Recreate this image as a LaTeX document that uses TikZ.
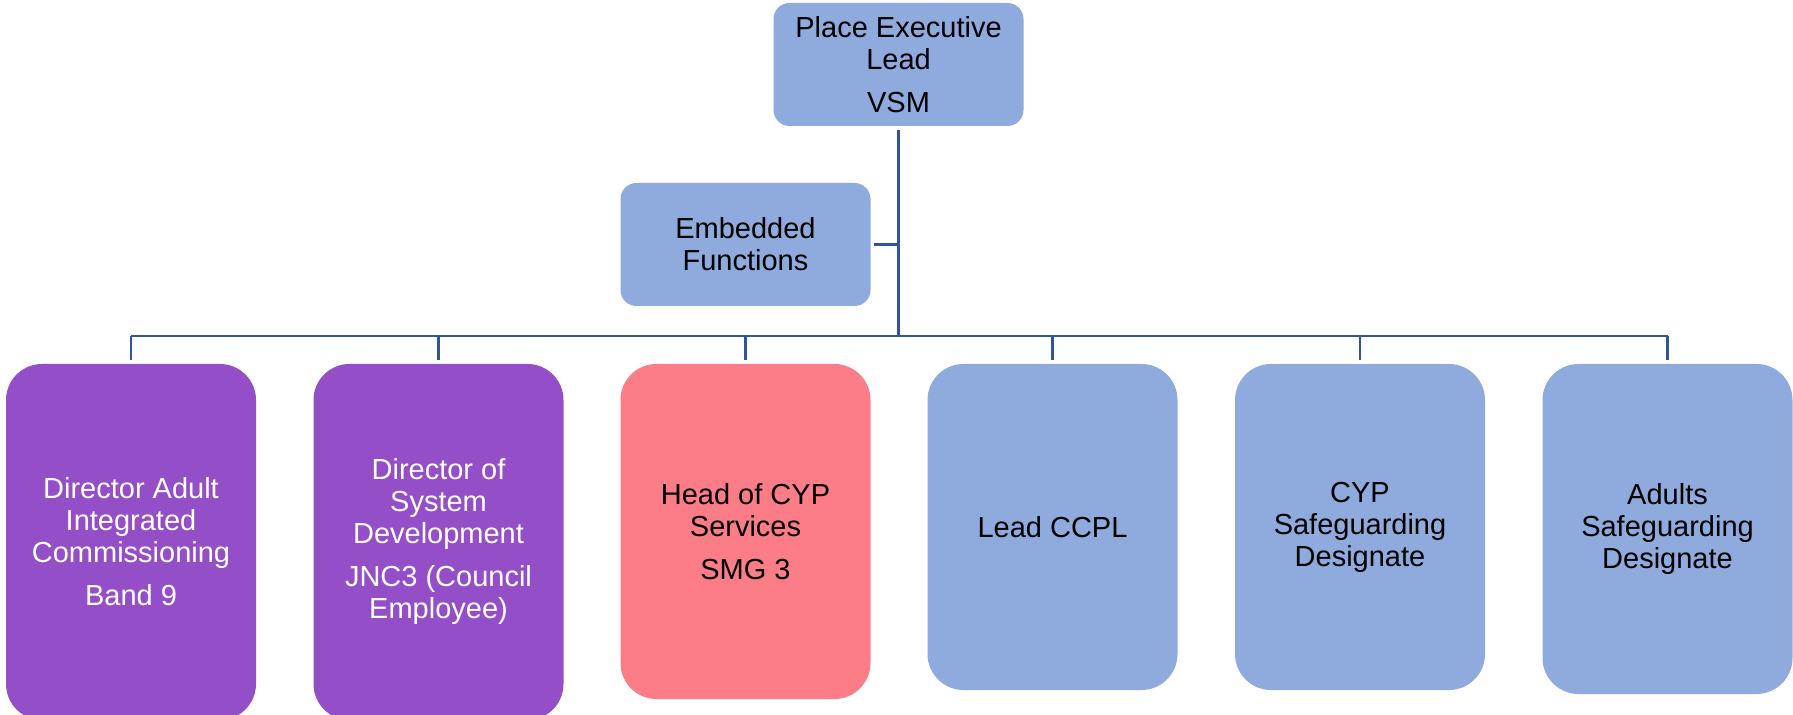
\documentclass[tikz,border=0pt]{standalone}
\usepackage{fontspec}
\setmainfont{Liberation Sans}
\usetikzlibrary{positioning}

\definecolor{roleblue}{HTML}{8FAADC}
\definecolor{rolepurple}{HTML}{944FC8}
\definecolor{rolepink}{HTML}{FC7C87}
\definecolor{linkblue}{HTML}{2F5597}

\tikzset{
  role/.style={fill=roleblue, inner sep=0pt, align=center,
    font=\fontsize{14.5}{16}\selectfont, minimum width=125pt},
  headbox/.style={role, rounded corners=8pt, minimum height=61.5pt},
  staffbox/.style={role, rounded corners=18pt},
  link/.style={draw=linkblue, line width=1.3pt},
  drop/.style={link, line width=1.1pt, shorten >=2pt}
}

\begin{document}
\begin{tikzpicture}[x=0.5pt, y=-0.5pt]
\clip (0,0) rectangle (1793,715);

% top and side boxes
\node[headbox] (pel) at (898.5,64.5) {Place Executive\\Lead\\[5.5pt]VSM};
\node[headbox] (ef) at (745.5,244.5) {Embedded\\Functions};

% reporting boxes
\node[staffbox, fill=rolepurple, text=white, minimum height=178pt] (dir1) at (131,542)
  {Director Adult\\Integrated\\Commissioning\\[5.5pt]Band 9};
\node[staffbox, fill=rolepurple, text=white, minimum height=178pt] (dir2) at (438.5,542)
  {Director of\\System\\Development\\[5.5pt]JNC3 (Council\\Employee)};
\node[staffbox, fill=rolepink, minimum height=167.5pt] (cyp) at (745.5,531.5)
  {Head of CYP\\Services\\[5.5pt]SMG 3};
\node[staffbox, minimum height=163pt] (ccpl) at (1052.5,527) {Lead CCPL};
\node[staffbox, minimum height=163pt] (cypsg) at (1360,527)
  {CYP\\Safeguarding\\Designate};
\node[staffbox, minimum height=165pt] (adsg) at (1667.5,529)
  {Adults\\Safeguarding\\Designate};

% connectors
\coordinate (bus) at (899,336);
\draw[link, shorten <=2pt] (pel.south) -- (pel.south |- bus);
\draw[link, shorten <=1.5pt] (ef.east) -- (ef.east -| bus);
\draw[link] (dir1.north |- bus) -- (adsg.north |- bus);
\draw[drop] (dir1.north |- bus) -- (dir1.north);
\draw[drop] (dir2.north |- bus) -- (dir2.north);
\draw[drop] (cyp.north |- bus) -- (cyp.north);
\draw[drop] (ccpl.north |- bus) -- (ccpl.north);
\draw[drop] (cypsg.north |- bus) -- (cypsg.north);
\draw[drop] (adsg.north |- bus) -- (adsg.north);
\end{tikzpicture}
\end{document}
